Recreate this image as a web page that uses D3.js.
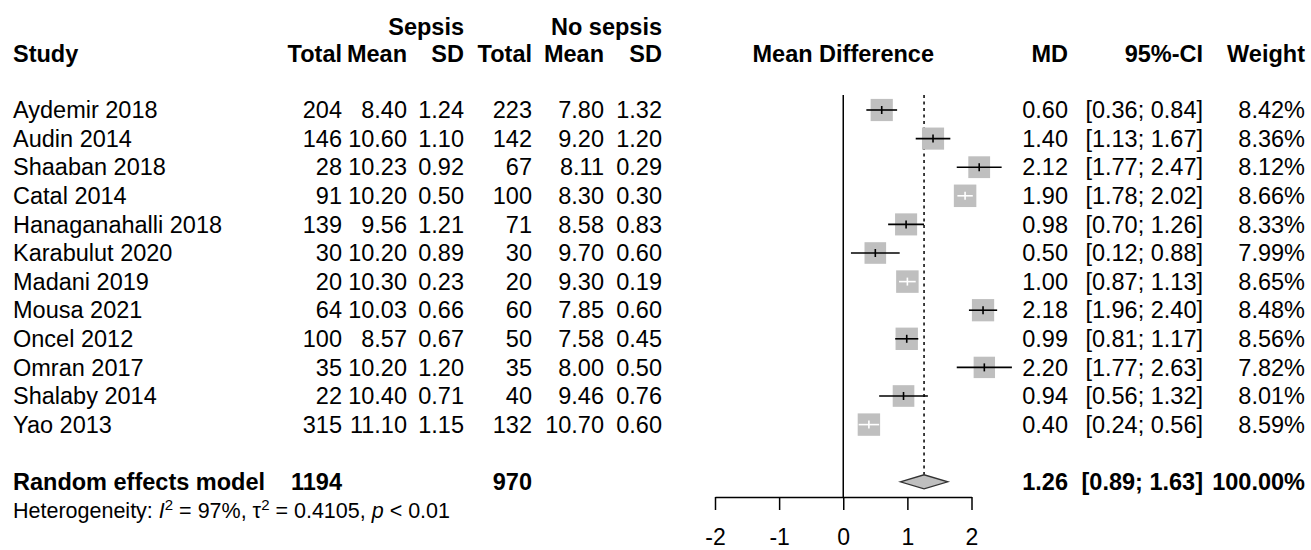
<!DOCTYPE html>
<html>
<head>
<meta charset="utf-8">
<script src="https://cdn.jsdelivr.net/npm/d3@7"></script>
<style>
  html, body { margin: 0; padding: 0; background: #fff; }
  svg text { font-family: "Liberation Sans", Arial, Helvetica, sans-serif; fill: #000; }
</style>
</head>
<body>
<div id="chart"></div>
<script>
// Forest plot — mean difference, sepsis vs no sepsis

const studies = ["Aydemir 2018", "Audin 2014", "Shaaban 2018", "Catal 2014", "Hanaganahalli 2018",
  "Karabulut 2020", "Madani 2019", "Mousa 2021", "Oncel 2012", "Omran 2017", "Shalaby 2014", "Yao 2013"];
const sepsisTotal = [204, 146, 28, 91, 139, 30, 20, 64, 100, 35, 22, 315];
const sepsisMean = ["8.40", "10.60", "10.23", "10.20", "9.56", "10.20", "10.30", "10.03", "8.57", "10.20", "10.40", "11.10"];
const sepsisSD = ["1.24", "1.10", "0.92", "0.50", "1.21", "0.89", "0.23", "0.66", "0.67", "1.20", "0.71", "1.15"];
const noTotal = [223, 142, 67, 100, 71, 30, 20, 60, 50, 35, 40, 132];
const noMean = ["7.80", "9.20", "8.11", "8.30", "8.58", "9.70", "9.30", "7.85", "7.58", "8.00", "9.46", "10.70"];
const noSD = ["1.32", "1.20", "0.29", "0.30", "0.83", "0.60", "0.19", "0.60", "0.45", "0.50", "0.76", "0.60"];
const md = [0.60, 1.40, 2.12, 1.90, 0.98, 0.50, 1.00, 2.18, 0.99, 2.20, 0.94, 0.40];
const ciLo = [0.36, 1.13, 1.77, 1.78, 0.70, 0.12, 0.87, 1.96, 0.81, 1.77, 0.56, 0.24];
const ciHi = [0.84, 1.67, 2.47, 2.02, 1.26, 0.88, 1.13, 2.40, 1.17, 2.63, 1.32, 0.56];
const weight = [8.42, 8.36, 8.12, 8.66, 8.33, 7.99, 8.65, 8.48, 8.56, 7.82, 8.01, 8.59];

const pooled = { label: "Random effects model", sepsisTotal: 1194, noTotal: 970, md: 1.26, lo: 0.89, hi: 1.63, weight: "100.00%" };
const xTicks = [-2, -1, 0, 1, 2];

const W = 1311, H = 550;
const FS = 23.5;

const svg = d3.select("#chart").append("svg")
  .attr("width", W).attr("height", H)
  .attr("viewBox", `0 0 ${W} ${H}`);

const x = d3.scaleLinear().domain([-2, 2]).range([715, 971.5]);
const row = d3.scaleLinear().domain([0, 11]).range([110, 424.6]);
const side = d3.scaleSqrt().domain([0, 8.66]).range([0, 22.5]);

const fmt2 = d3.format(".2f");

// column right edges
const col = { study: 13, sTot: 342, sMean: 407, sSD: 464, nTot: 532, nMean: 604, nSD: 662, md: 1068, ci: 1203, w: 1305 };

function txt(g, xPos, yPos, s, anchor, bold, size) {
  return g.append("text")
    .attr("x", xPos).attr("y", yPos)
    .attr("dy", "0.35em")
    .attr("text-anchor", anchor)
    .attr("font-size", size || FS)
    .attr("font-weight", bold ? "bold" : "normal")
    .text(s);
}

// headers
const hdr = svg.append("g");
const hY1 = 27, hY2 = 54;
txt(hdr, col.sSD, hY1, "Sepsis", "end", true);
txt(hdr, col.nSD, hY1, "No sepsis", "end", true);
txt(hdr, col.study, hY2, "Study", "start", true);
[["sTot", "Total"], ["sMean", "Mean"], ["sSD", "SD"], ["nTot", "Total"], ["nMean", "Mean"], ["nSD", "SD"],
 ["md", "MD"], ["ci", "95%-CI"], ["w", "Weight"]].forEach(([k, s]) => txt(hdr, col[k], hY2, s, "end", true));
txt(hdr, x(0), hY2, "Mean Difference", "middle", true);

// study rows
const body = svg.append("g");
studies.forEach((s, i) => {
  const y = row(i);
  txt(body, col.study, y, s, "start");
  txt(body, col.sTot, y, sepsisTotal[i], "end");
  txt(body, col.sMean, y, sepsisMean[i], "end");
  txt(body, col.sSD, y, sepsisSD[i], "end");
  txt(body, col.nTot, y, noTotal[i], "end");
  txt(body, col.nMean, y, noMean[i], "end");
  txt(body, col.nSD, y, noSD[i], "end");
  txt(body, col.md, y, fmt2(md[i]), "end");
  txt(body, col.ci, y, `[${fmt2(ciLo[i])}; ${fmt2(ciHi[i])}]`, "end");
  txt(body, col.w, y, `${fmt2(weight[i])}%`, "end");
});

// pooled row
const yP = row(13);
txt(body, col.study, yP, pooled.label, "start", true);
txt(body, col.sTot, yP, pooled.sepsisTotal, "end", true);
txt(body, col.nTot, yP, pooled.noTotal, "end", true);
txt(body, col.md, yP, fmt2(pooled.md), "end", true);
txt(body, col.ci, yP, `[${fmt2(pooled.lo)}; ${fmt2(pooled.hi)}]`, "end", true);
txt(body, col.w, yP, pooled.weight, "end", true);

// heterogeneity line
const het = svg.append("text")
  .attr("x", col.study).attr("y", 510).attr("dy", "0.35em")
  .attr("font-size", 21.5);
het.append("tspan").text("Heterogeneity: ");
het.append("tspan").attr("font-style", "italic").text("I");
het.append("tspan").attr("baseline-shift", "super").attr("font-size", 15).text("2");
het.append("tspan").text(" = 97%, \u03c4");
het.append("tspan").attr("baseline-shift", "super").attr("font-size", 15).text("2");
het.append("tspan").text(" = 0.4105, ");
het.append("tspan").attr("font-style", "italic").text("p");
het.append("tspan").text(" < 0.01");

// plot panel
const plot = svg.append("g");
const axisY = 497;
const topY = 95;
const dH = 7;

// reference line at 0
plot.append("line")
  .attr("x1", x(0)).attr("x2", x(0)).attr("y1", topY).attr("y2", axisY)
  .attr("stroke", "#000").attr("stroke-width", 1.5);

// pooled estimate dotted line
plot.append("line")
  .attr("x1", x(pooled.md)).attr("x2", x(pooled.md)).attr("y1", topY).attr("y2", yP - dH)
  .attr("stroke", "#000").attr("stroke-width", 1.5)
  .attr("stroke-dasharray", "3,3.5");

// squares + CIs
const marks = plot.append("g").selectAll("g")
  .data(studies.map((s, i) => ({ i, md: md[i], lo: ciLo[i], hi: ciHi[i], w: weight[i] })))
  .enter().append("g");

marks.append("rect")
  .attr("x", d => x(d.md) - side(d.w) / 2)
  .attr("y", d => row(d.i) - side(d.w) / 2)
  .attr("width", d => side(d.w))
  .attr("height", d => side(d.w))
  .attr("fill", "#bfbfbf");

const inside = d => (x(d.hi) - x(d.lo)) < side(d.w);

marks.append("line")
  .attr("x1", d => x(d.lo)).attr("x2", d => x(d.hi))
  .attr("y1", d => row(d.i)).attr("y2", d => row(d.i))
  .attr("stroke", d => inside(d) ? "#fff" : "#000")
  .attr("stroke-width", 1.6);

marks.append("line")
  .attr("x1", d => x(d.md)).attr("x2", d => x(d.md))
  .attr("y1", d => row(d.i) - 4).attr("y2", d => row(d.i) + 4)
  .attr("stroke", d => inside(d) ? "#fff" : "#000")
  .attr("stroke-width", 1.6);

// diamond
plot.append("path")
  .attr("d", `M${x(pooled.lo)},${yP} L${x(pooled.md)},${yP - dH} L${x(pooled.hi)},${yP} L${x(pooled.md)},${yP + dH} Z`)
  .attr("fill", "#bfbfbf").attr("stroke", "#333").attr("stroke-width", 1.3);

// x axis
const axis = plot.append("g").attr("transform", `translate(0,${axisY})`)
  .call(d3.axisBottom(x).tickValues(xTicks).tickSize(13).tickSizeOuter(0).tickFormat(d3.format("d")));
axis.select(".domain").attr("stroke", "#000").attr("stroke-width", 1.5);
axis.selectAll(".tick line").attr("stroke", "#000").attr("stroke-width", 1.5);
axis.selectAll(".tick text")
  .attr("font-size", 23).attr("fill", "#000")
  .attr("font-family", "Liberation Sans, Arial, sans-serif")
  .attr("y", 40).attr("dy", "0.35em")
  .text(d => d < 0 ? "-" + Math.abs(d) : d);
</script>
</body>
</html>
